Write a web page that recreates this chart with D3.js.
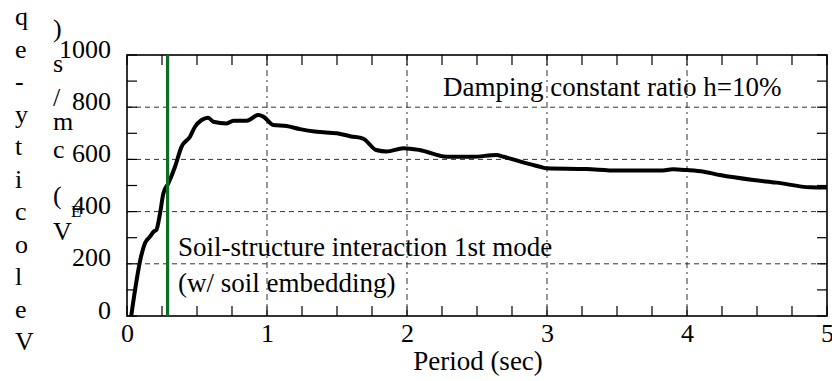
<!DOCTYPE html>
<html><head><meta charset="utf-8">
<script src="https://cdn.jsdelivr.net/npm/d3@7"></script>
<style>body{margin:0;background:#fff}svg{display:block}text{font-family:"Liberation Serif","Times New Roman",serif;fill:#000}</style>
</head><body>
<script>
// ---- data ----
const periods = [0.03,0.1,0.129,0.164,0.19,0.21,0.235,0.26,0.295,0.343,0.39,0.45,0.486,0.533,0.58,0.617,0.712,0.76,0.855,0.938,0.974,1.045,1.14,1.236,1.355,1.5,1.6,1.686,1.78,1.855,1.974,2.09,2.283,2.47,2.64,2.69,2.95,3.0,3.28,3.5,3.81,3.9,4.0,4.12,4.236,4.474,4.64,4.88,5.0];
const velocities = [0,227,280,304,323,330,390,470,508,572,649,687,725,751,760,744,738,748,748,770,764,732,728,716,706,700,688,680,636,630,643,636,610,610,617,610,572,566,563,557,557,562,559,553,540,521,511,493,492];
const xTicks = [0,1,2,3,4,5];
const yTicks = [0,200,400,600,800,1000];
const modePeriod = 0.29;
const xTitle = "Period (sec)";
const yLabel1 = "Velocity-eq";      // drawn bottom-to-top, one glyph per line
const yLabel2 = ["V","E"," ","(","c","m","/","s",")"];
const note1 = "Damping constant ratio h=10%";
const note2 = "Soil-structure interaction 1st mode";
const note3 = "(w/ soil embedding)";

const W = 832, H = 381;
const m = {l:127, r:5, t:55, b:65};
const svg = d3.select("body").append("svg").attr("width",W).attr("height",H);
const x = d3.scaleLinear().domain([0,5]).range([m.l, W-m.r]);
const y = d3.scaleLinear().domain([0,1000]).range([H-m.b, m.t]);

// grid
const g = svg.append("g");
g.selectAll(".gx").data(xTicks.slice(1,-1)).enter().append("line")
  .attr("x1",d=>x(d)).attr("x2",d=>x(d)).attr("y1",y(0)).attr("y2",y(1000))
  .attr("stroke","#333").attr("stroke-width",1).attr("stroke-dasharray","6,4,2,4");
g.selectAll(".gy").data(yTicks.slice(1,-1)).enter().append("line")
  .attr("x1",x(0)).attr("x2",x(5)).attr("y1",d=>y(d)).attr("y2",d=>y(d))
  .attr("stroke","#333").attr("stroke-width",1).attr("stroke-dasharray","5,4");

// minor inward ticks
const tl = 10;
const xm = d3.range(0,5.001,0.25), ym = d3.range(0,1000.1,100);
g.selectAll(".tb").data(xm).enter().append("line")
  .attr("x1",d=>x(d)).attr("x2",d=>x(d)).attr("y1",y(0)).attr("y2",y(0)-tl).attr("stroke","#000").attr("stroke-width",1.2);
g.selectAll(".tt").data(xm).enter().append("line")
  .attr("x1",d=>x(d)).attr("x2",d=>x(d)).attr("y1",y(1000)).attr("y2",y(1000)+tl).attr("stroke","#000").attr("stroke-width",1.2);
g.selectAll(".tlft").data(ym).enter().append("line")
  .attr("y1",d=>y(d)).attr("y2",d=>y(d)).attr("x1",x(0)).attr("x2",x(0)+tl).attr("stroke","#000").attr("stroke-width",1.2);
g.selectAll(".trt").data(ym).enter().append("line")
  .attr("y1",d=>y(d)).attr("y2",d=>y(d)).attr("x1",x(5)).attr("x2",x(5)-tl).attr("stroke","#000").attr("stroke-width",1.2);

// frame
svg.append("rect").attr("x",x(0)).attr("y",y(1000)).attr("width",x(5)-x(0)).attr("height",y(0)-y(1000))
  .attr("fill","none").attr("stroke","#000").attr("stroke-width",1.6);

// axes labels via d3 axes (no domain/ticks lines)
const xa = svg.append("g").attr("transform",`translate(0,${y(0)})`)
  .call(d3.axisBottom(x).tickValues(xTicks).tickFormat(d3.format("d")).tickSize(0).tickPadding(8));
xa.select(".domain").remove();
xa.selectAll("text").attr("font-size",26).attr("font-family","Liberation Serif").attr("dy","0.71em");
const ya = svg.append("g").attr("transform",`translate(${x(0)-16},0)`)
  .call(d3.axisLeft(y).tickValues(yTicks).tickFormat(d3.format("d")).tickSize(0).tickPadding(0));
ya.select(".domain").remove();
ya.selectAll("text").attr("font-size",26).attr("font-family","Liberation Serif").attr("dy","0.08em");

// curve
svg.append("path").datum(periods.map((p,i)=>[p,velocities[i]]))
  .attr("d", d3.line().x(d=>x(d[0])).y(d=>y(d[1])).curve(d3.curveMonotoneX))
  .attr("fill","none").attr("stroke","#000").attr("stroke-width",4).attr("stroke-linejoin","round");

// mode line
svg.append("line").attr("x1",x(modePeriod)).attr("x2",x(modePeriod)).attr("y1",y(0)).attr("y2",y(1000))
  .attr("stroke","#0b6e22").attr("stroke-width",3.2);

// annotations
svg.append("text").attr("x",443).attr("y",96).attr("font-size",27).text(note1);
svg.append("text").attr("x",178).attr("y",256).attr("font-size",27).text(note2);
svg.append("text").attr("x",178).attr("y",292).attr("font-size",27).text(note3);

// x title
svg.append("text").attr("x",(x(0)+x(5))/2+1).attr("y",370).attr("text-anchor","middle").attr("font-size",27).text(xTitle);

// y label (glyphs stacked)
yLabel1.split("").forEach((c,i)=>{
  svg.append("text").attr("x",15).attr("y",350-32.5*i).attr("font-size",26).text(c);
});
const yl2y = [240,0,0,204,158,130,106,72,37];
yLabel2.forEach((c,i)=>{
  if(c===" ") return;
  svg.append("text").attr("x",c==="E"?71:53).attr("y",c==="E"?217:yl2y[i]).attr("font-size",c==="E"?17:26).text(c);
});
</script>
</body></html>
